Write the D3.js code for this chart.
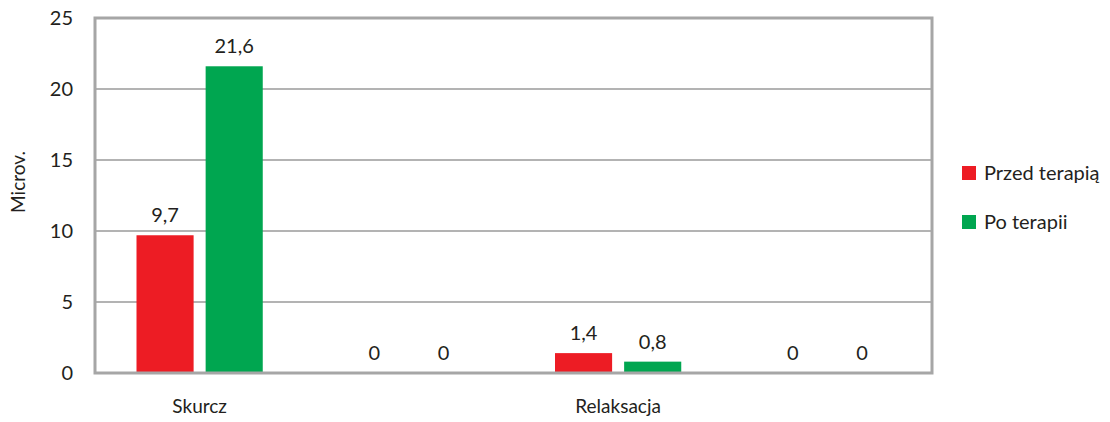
<!DOCTYPE html>
<html>
<head>
<meta charset="utf-8">
<script src="https://cdn.jsdelivr.net/npm/d3@7"></script>
<style>
  html, body { margin: 0; padding: 0; background: #fff; }
  svg text { font-family: Lato, "Open Sans", sans-serif; fill: #231f20; }
</style>
</head>
<body>
<svg id="chart" width="1110" height="422"></svg>
<script>
// Four category slots; the second and fourth carry no label
const categories = ["Skurcz", "", "Relaksacja", ""];
const seriesNames = ["Przed terapią", "Po terapii"];
const przedTerapia = [9.7, 0, 1.4, 0];
const poTerapii = [21.6, 0, 0.8, 0];
const yTicks = [0, 5, 10, 15, 20, 25];
const colors = ["#ed1c24", "#00a650"];
const yTitle = "Microv.";

const svg = d3.select("#chart");
const plot = { left: 95, right: 932, top: 18, bottom: 373 };

const x0 = d3.scaleBand()
  .domain(d3.range(categories.length))
  .range([plot.left, plot.right])
  .paddingInner(0)
  .paddingOuter(0);

const x1 = d3.scaleBand()
  .domain([0, 1])
  .range([41.5, x0.bandwidth() - 41.5])
  .paddingInner(12 / 69);

const y = d3.scaleLinear().domain([0, 25]).range([plot.bottom, plot.top]);

// Horizontal gridlines
svg.append("g")
  .selectAll("line")
  .data(yTicks.filter(t => t > 0 && t < 25))
  .join("line")
  .attr("x1", plot.left).attr("x2", plot.right)
  .attr("y1", d => y(d)).attr("y2", d => y(d))
  .attr("stroke", "#b3b3b3").attr("stroke-width", 2);

// Y axis tick labels
const yAxis = d3.axisLeft(y).tickValues(yTicks).tickSize(0).tickPadding(22);
const yg = svg.append("g").attr("transform", `translate(${plot.left},0)`).call(yAxis);
yg.select(".domain").remove();
yg.selectAll("text")
  .style("font-family", "Lato, 'Open Sans', sans-serif")
  .style("font-size", "20px")
  .attr("fill", "#231f20");

// Y axis title
svg.append("text")
  .attr("transform", `translate(25,182) rotate(-90)`)
  .attr("text-anchor", "middle")
  .style("font-size", "19px")
  .text(yTitle);

// Bars
const rows = categories.map((c, i) => ({ i, values: [przedTerapia[i], poTerapii[i]] }));
const groups = svg.append("g").selectAll("g")
  .data(rows)
  .join("g")
  .attr("transform", d => `translate(${x0(d.i)},0)`);

groups.selectAll("rect")
  .data(d => d.values.map((v, s) => ({ v, s })))
  .join("rect")
  .attr("x", d => x1(d.s))
  .attr("width", x1.bandwidth())
  .attr("y", d => y(d.v))
  .attr("height", d => y(0) - y(d.v))
  .attr("fill", d => colors[d.s]);

groups.selectAll("text")
  .data(d => d.values.map((v, s) => ({ v, s })))
  .join("text")
  .attr("x", d => x1(d.s) + x1.bandwidth() / 2)
  .attr("y", d => y(d.v) - 13)
  .attr("text-anchor", "middle")
  .style("font-size", "20px")
  .text(d => String(d.v).replace(".", ","));

// Plot frame
svg.append("rect")
  .attr("x", plot.left).attr("y", plot.top)
  .attr("width", plot.right - plot.left)
  .attr("height", plot.bottom - plot.top)
  .attr("fill", "none")
  .attr("stroke", "#a6a6a6")
  .attr("stroke-width", 3);

// Category labels
const xAxis = d3.axisBottom(x0).tickSize(0).tickPadding(27).tickFormat(i => categories[i]);
const xg = svg.append("g").attr("transform", `translate(0,${plot.bottom})`).call(xAxis);
xg.select(".domain").remove();
xg.selectAll("text")
  .style("font-family", "Lato, 'Open Sans', sans-serif")
  .style("font-size", "19px")
  .attr("fill", "#231f20");

// Legend
const legend = svg.append("g").attr("transform", "translate(962,166)");
const items = legend.selectAll("g")
  .data(seriesNames)
  .join("g")
  .attr("transform", (d, i) => `translate(0,${i * 49})`);
items.append("rect")
  .attr("width", 14).attr("height", 14)
  .attr("fill", (d, i) => colors[i]);
items.append("text")
  .attr("x", 22).attr("y", 14)
  .style("font-size", "20px")
  .text(d => d);
</script>
</body>
</html>
